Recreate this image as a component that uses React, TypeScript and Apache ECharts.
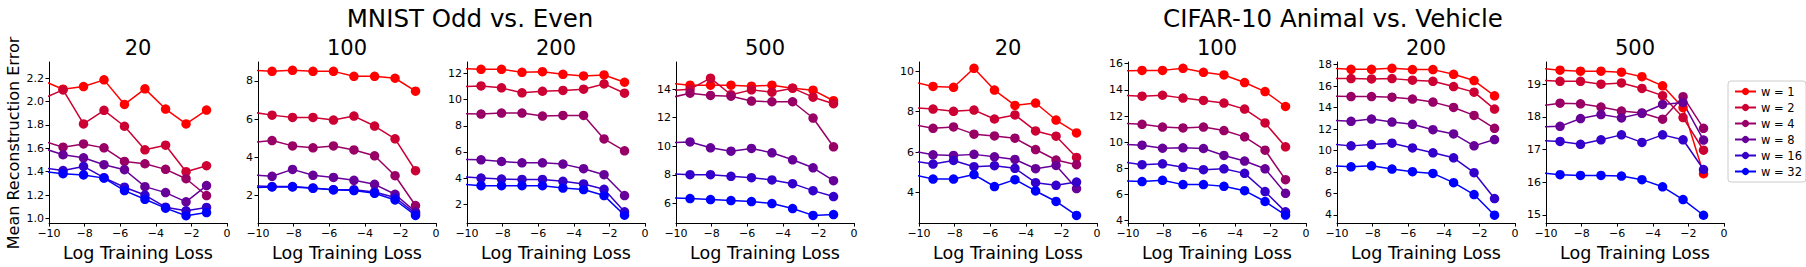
import React, { useEffect, useRef } from "react";
import * as echarts from "echarts";

const F = "DejaVu Sans";

// x positions (log training loss); first point lies left of the axis and is clipped
const X_LOG_LOSS = [-10.36, -9.21, -8.06, -6.91, -5.76, -4.61, -3.45, -2.3, -1.15];

const WIDTH_NAMES = ["w = 1", "w = 2", "w = 4", "w = 8", "w = 16", "w = 32"];
const WIDTH_COLORS = ["#ff0000", "#cc0033", "#990066", "#660099", "#3300cc", "#0000ff"];

const PANEL_TITLES = ["20", "100", "200", "500", "20", "100", "200", "500"];
const SUPTITLES = ["MNIST Odd vs. Even", "CIFAR-10 Animal vs. Vehicle"];
const X_TITLE = "Log Training Loss";
const Y_TITLE = "Mean Reconstruction Error";

// rows: w = 1, 2, 4, 8, 16, 32
const mnist20 = [
  [2.18, 2.106, 2.129, 2.186, 1.976, 2.109, 1.936, 1.809, 1.928],
  [2.025, 2.1, 1.809, 1.925, 1.789, 1.587, 1.627, 1.4, 1.451],
  [1.664, 1.61, 1.638, 1.604, 1.488, 1.468, 1.42, 1.34, 1.196],
  [1.602, 1.545, 1.519, 1.46, 1.417, 1.272, 1.221, 1.142, 1.281],
  [1.433, 1.41, 1.445, 1.349, 1.267, 1.2, 1.096, 1.065, 1.094],
  [1.403, 1.383, 1.372, 1.345, 1.238, 1.164, 1.088, 1.023, 1.05],
];
const mnist100 = [
  [8.56, 8.5, 8.555, 8.5, 8.5, 8.24, 8.24, 8.14, 7.46],
  [6.37, 6.21, 6.09, 6.09, 5.95, 6.16, 5.64, 4.97, 3.3],
  [4.78, 4.88, 4.6, 4.5, 4.6, 4.39, 4.08, 3.04, 1.48],
  [3.08, 3.01, 3.37, 3.06, 2.95, 2.8, 2.59, 2.07, 1.15],
  [2.51, 2.47, 2.47, 2.4, 2.31, 2.31, 2.19, 1.9, 1.06],
  [2.42, 2.45, 2.45, 2.38, 2.3, 2.26, 2.12, 1.77, 0.96],
];
const mnist200 = [
  [12.4, 12.33, 12.33, 12.1, 12.15, 11.95, 11.82, 11.9, 11.34],
  [10.99, 11.06, 10.91, 10.53, 10.65, 10.71, 10.81, 11.21, 10.5],
  [8.94, 8.9, 8.98, 8.98, 8.75, 8.8, 8.8, 7.0, 6.09],
  [5.44, 5.4, 5.27, 5.17, 5.17, 5.07, 4.72, 4.26, 2.66],
  [4.12, 4.0, 3.93, 3.9, 3.9, 3.75, 3.55, 3.14, 1.42],
  [3.54, 3.42, 3.42, 3.42, 3.42, 3.24, 3.12, 2.66, 1.16],
];
const mnist500 = [
  [14.41, 14.28, 14.28, 14.28, 14.21, 14.28, 14.07, 13.93, 13.19],
  [13.9, 14.0, 14.77, 13.61, 13.95, 13.79, 14.07, 13.44, 12.98],
  [13.39, 13.72, 13.56, 13.51, 13.17, 13.12, 13.12, 11.98, 9.97],
  [10.25, 10.31, 9.9, 9.66, 9.85, 9.55, 9.06, 8.5, 7.6],
  [8.08, 8.02, 8.02, 7.9, 7.81, 7.65, 7.39, 6.9, 6.49],
  [6.41, 6.35, 6.28, 6.21, 6.14, 6.0, 5.65, 5.17, 5.23],
];
const cifar20 = [
  [9.48, 9.25, 9.21, 10.15, 9.07, 8.31, 8.43, 7.59, 6.95],
  [8.2, 8.13, 8.02, 8.08, 7.64, 7.84, 7.05, 6.79, 5.74],
  [7.37, 7.18, 7.25, 6.89, 6.8, 6.69, 6.13, 5.61, 5.38],
  [6.06, 5.87, 5.84, 5.89, 5.77, 5.64, 5.18, 5.34, 4.2],
  [5.56, 5.41, 5.59, 5.28, 5.33, 5.2, 4.49, 4.36, 4.52],
  [4.89, 4.67, 4.67, 4.89, 4.3, 4.64, 4.08, 3.56, 2.87],
];
const cifar100 = [
  [15.46, 15.49, 15.49, 15.65, 15.34, 15.14, 14.56, 13.87, 12.73],
  [13.59, 13.52, 13.59, 13.37, 13.19, 12.99, 12.53, 11.47, 9.65],
  [11.44, 11.37, 11.16, 11.09, 11.16, 10.89, 10.41, 9.39, 7.14],
  [9.84, 9.77, 9.54, 9.57, 9.52, 8.99, 8.56, 7.97, 6.1],
  [8.5, 8.28, 8.35, 8.08, 7.9, 7.97, 7.62, 6.23, 4.68],
  [7.06, 6.99, 7.09, 6.76, 6.76, 6.63, 6.3, 5.47, 4.43],
];
const cifar200 = [
  [17.66, 17.57, 17.57, 17.66, 17.54, 17.54, 17.1, 16.52, 15.1],
  [16.7, 16.7, 16.67, 16.7, 16.55, 16.45, 15.96, 15.44, 13.86],
  [15.07, 15.03, 15.03, 14.97, 14.79, 14.51, 14.01, 13.27, 12.07],
  [12.81, 12.72, 12.93, 12.65, 12.44, 11.94, 11.54, 10.43, 11.02],
  [10.6, 10.43, 10.55, 10.68, 10.24, 9.78, 9.32, 7.93, 5.52],
  [8.57, 8.48, 8.57, 8.27, 8.02, 7.86, 7.0, 5.89, 3.97],
];
const cifar500 = [
  [19.49, 19.43, 19.4, 19.4, 19.37, 19.23, 18.95, 18.28, 16.26],
  [19.12, 19.09, 19.09, 19.0, 19.04, 18.87, 18.65, 17.98, 16.98],
  [18.33, 18.42, 18.4, 18.3, 18.18, 18.12, 17.93, 18.62, 17.65],
  [17.69, 17.71, 17.95, 18.07, 17.97, 18.11, 18.38, 18.44, 17.29],
  [17.28, 17.25, 17.16, 17.3, 17.45, 17.22, 17.45, 17.3, 16.39],
  [16.29, 16.23, 16.21, 16.21, 16.19, 16.08, 15.86, 15.47, 14.99],
];
const PANELS = [mnist20, mnist100, mnist200, mnist500, cifar20, cifar100, cifar200, cifar500];

const Y_MIN = [0.96, 0.56, 0.553, 4.63, 2.49, 3.82, 3.23, 14.75];
const Y_MAX = [2.339, 8.99, 12.89, 15.9, 10.46, 16.13, 18.25, 19.68];
const Y_TICKS = [
  [1.0, 1.2, 1.4, 1.6, 1.8, 2.0, 2.2],
  [2, 4, 6, 8],
  [2, 4, 6, 8, 10, 12],
  [6, 8, 10, 12, 14],
  [4, 6, 8, 10],
  [4, 6, 8, 10, 12, 14, 16],
  [4, 6, 8, 10, 12, 14, 16, 18],
  [15, 16, 17, 18, 19],
];
const Y_DECIMALS = [1, 0, 0, 0, 0, 0, 0, 0];
const X_TICK_INTERVAL = 2;

// layout
const GRID_LEFT = [49, 258, 467, 676, 919, 1128, 1337, 1546];
const GRID_TOP = 62;
const GRID_W = 178;
const GRID_H = 162;
const SUPTITLE_X = [470, 1333];

function buildOption() {
  const series: any[] = [];
  PANELS.forEach((panel, p) => {
    panel.forEach((vals, w) => {
      series.push({
        type: "line",
        name: WIDTH_NAMES[w],
        xAxisIndex: p,
        yAxisIndex: p,
        data: X_LOG_LOSS.map((x, i) => [x, vals[i]]),
        color: WIDTH_COLORS[w],
        symbol: "circle",
        symbolSize: 9.5,
        showSymbol: true,
        clip: true,
        lineStyle: { width: 1.5, color: WIDTH_COLORS[w] },
        itemStyle: { color: WIDTH_COLORS[w] },
        emphasis: { disabled: true },
      });
    });
  });

  const graphic: any[] = [];
  PANEL_TITLES.forEach((t, p) => {
    graphic.push({
      type: "text",
      x: GRID_LEFT[p] + GRID_W / 2,
      y: 48,
      style: { text: t, fontSize: 21, fontFamily: F, fill: "#000", align: "center", verticalAlign: "middle" },
    });
  });
  SUPTITLES.forEach((t, i) => {
    graphic.push({
      type: "text",
      x: SUPTITLE_X[i],
      y: 18,
      style: { text: t, fontSize: 24.5, fontFamily: F, fill: "#000", align: "center", verticalAlign: "middle" },
    });
  });
  graphic.push({
    type: "text",
    x: 13,
    y: GRID_TOP + GRID_H / 2,
    rotation: Math.PI / 2,
    style: { text: Y_TITLE, fontSize: 16, fontFamily: F, fill: "#000", align: "center", verticalAlign: "middle" },
  });

  return {
    animation: false,
    backgroundColor: "#fff",
    grid: GRID_LEFT.map((l) => ({ left: l, top: GRID_TOP, width: GRID_W, height: GRID_H })),
    xAxis: GRID_LEFT.map((_, i) => ({
      type: "value",
      gridIndex: i,
      min: -10,
      max: 0,
      interval: X_TICK_INTERVAL,
      axisLine: { show: true, onZero: false, lineStyle: { color: "#000", width: 1 } },
      axisTick: { show: true, length: 3.5, lineStyle: { color: "#000", width: 1 } },
      axisLabel: {
        fontSize: 11,
        color: "#000",
        fontFamily: F,
        margin: 5,
        formatter: (v: number) => String(v).replace("-", "\u2212"),
      },
      splitLine: { show: false },
      name: X_TITLE,
      nameLocation: "middle",
      nameGap: 18,
      nameTextStyle: { fontSize: 17.5, color: "#000", fontFamily: F },
    })),
    yAxis: GRID_LEFT.map((_, i) => ({
      type: "value",
      gridIndex: i,
      min: Y_MIN[i],
      max: Y_MAX[i],
      axisLine: { show: true, onZero: false, lineStyle: { color: "#000", width: 1 } },
      axisTick: { show: true, length: 3.5, customValues: Y_TICKS[i], lineStyle: { color: "#000", width: 1 } },
      axisLabel: {
        fontSize: 11,
        color: "#000",
        fontFamily: F,
        margin: 5,
        customValues: Y_TICKS[i],
        formatter: (v: number) => v.toFixed(Y_DECIMALS[i]),
      },
      splitLine: { show: false },
    })),
    legend: {
      orient: "vertical",
      left: 1728,
      top: 81,
      data: WIDTH_NAMES,
      itemWidth: 21,
      itemHeight: 9,
      itemGap: 4,
      padding: [4.5, 4, 4.5, 6],
      borderColor: "#cccccc",
      borderWidth: 1,
      borderRadius: 3,
      backgroundColor: "#fff",
      textStyle: { fontSize: 11.5, color: "#000", fontFamily: F },
    },
    graphic,
    series,
  };
}

export default function App() {
  const ref = useRef<HTMLDivElement>(null);
  useEffect(() => {
    if (!ref.current) return;
    const chart = echarts.init(ref.current, null, { renderer: "svg" });
    chart.setOption(buildOption() as any);
    return () => chart.dispose();
  }, []);
  return (
    <div
      ref={ref}
      style={{ position: "absolute", left: 0, top: 0, width: 1806, height: 267, background: "#fff" }}
    />
  );
}
